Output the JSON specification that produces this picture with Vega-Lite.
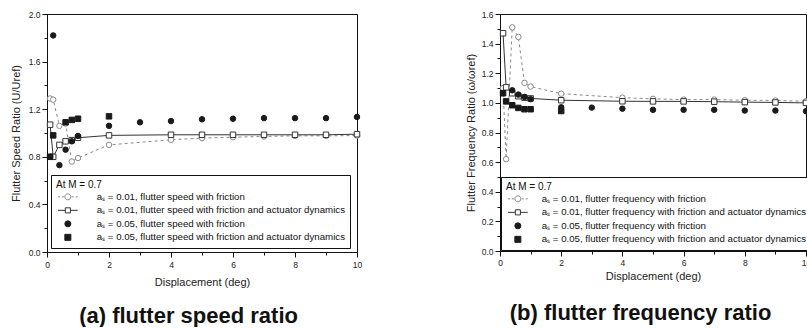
{
  "$schema": "https://vega.github.io/schema/vega-lite/v6.json",
  "padding": {"left": 9, "top": 9, "right": 0, "bottom": 0},
  "config": {
    "font": "Liberation Sans",
    "view": {"stroke": "#111", "strokeWidth": 1},
    "axis": {"domainColor": "#111", "tickColor": "#111", "labelColor": "#222", "labelFontSize": 8.5, "titleFontSize": 11, "titleFontWeight": "normal", "titleColor": "#222", "grid": false},
    "legend": {"strokeColor": "#111", "fillColor": "white", "padding": 5, "titleFontWeight": "normal", "titleFontSize": 10, "titleColor": "#111", "titlePadding": 2, "labelFontSize": 9.7, "labelColor": "#111", "labelLimit": 400, "rowPadding": 2.5, "symbolSize": 36, "symbolStrokeWidth": 1, "symbolOpacity": 1}
  },
  "columns": 2,
  "align": "none",
  "spacing": 96,
  "resolve": {
    "scale": {"shape": "independent", "fill": "independent", "stroke": "independent"},
    "legend": {"shape": "independent", "fill": "independent", "stroke": "independent"}
  },
  "datasets": {
    "speed": [
      {"x": 0.1, "y": 1.29, "series": "A"}, {"x": 0.2, "y": 1.28, "series": "A"}, {"x": 0.4, "y": 1.06, "series": "A"}, {"x": 0.6, "y": 1.08, "series": "A"}, {"x": 0.8, "y": 0.76, "series": "A"}, {"x": 1.0, "y": 0.79, "series": "A"}, {"x": 2, "y": 0.9, "series": "A"}, {"x": 4, "y": 0.943, "series": "A"}, {"x": 5, "y": 0.957, "series": "A"}, {"x": 6, "y": 0.965, "series": "A"}, {"x": 7, "y": 0.971, "series": "A"}, {"x": 8, "y": 0.976, "series": "A"}, {"x": 9, "y": 0.976, "series": "A"}, {"x": 10, "y": 0.979, "series": "A"},
      {"x": 0.1, "y": 1.07, "series": "B"}, {"x": 0.2, "y": 0.8, "series": "B"}, {"x": 0.4, "y": 0.9, "series": "B"}, {"x": 0.6, "y": 0.93, "series": "B"}, {"x": 0.8, "y": 0.94, "series": "B"}, {"x": 1.0, "y": 0.96, "series": "B"}, {"x": 2, "y": 0.98, "series": "B"}, {"x": 4, "y": 0.985, "series": "B"}, {"x": 5, "y": 0.985, "series": "B"}, {"x": 6, "y": 0.985, "series": "B"}, {"x": 7, "y": 0.985, "series": "B"}, {"x": 8, "y": 0.985, "series": "B"}, {"x": 9, "y": 0.985, "series": "B"}, {"x": 10, "y": 0.99, "series": "B"},
      {"x": 0.1, "y": 0.8, "series": "C"}, {"x": 0.2, "y": 1.82, "series": "C"}, {"x": 0.4, "y": 0.73, "series": "C"}, {"x": 0.6, "y": 0.86, "series": "C"}, {"x": 0.8, "y": 0.93, "series": "C"}, {"x": 1.0, "y": 0.975, "series": "C"}, {"x": 2, "y": 1.06, "series": "C"}, {"x": 3, "y": 1.09, "series": "C"}, {"x": 4, "y": 1.1, "series": "C"}, {"x": 5, "y": 1.115, "series": "C"}, {"x": 6, "y": 1.12, "series": "C"}, {"x": 7, "y": 1.125, "series": "C"}, {"x": 8, "y": 1.125, "series": "C"}, {"x": 9, "y": 1.125, "series": "C"}, {"x": 10, "y": 1.135, "series": "C"},
      {"x": 0.1, "y": 0.8, "series": "D"}, {"x": 0.2, "y": 0.98, "series": "D"}, {"x": 0.6, "y": 1.09, "series": "D"}, {"x": 0.8, "y": 1.11, "series": "D"}, {"x": 1.0, "y": 1.12, "series": "D"}, {"x": 2, "y": 1.14, "series": "D"}
    ],
    "freq": [
      {"x": 0.1, "y": 1.1, "series": "A"}, {"x": 0.2, "y": 0.62, "series": "A"}, {"x": 0.4, "y": 1.51, "series": "A"}, {"x": 0.6, "y": 1.445, "series": "A"}, {"x": 0.8, "y": 1.135, "series": "A"}, {"x": 1.0, "y": 1.11, "series": "A"}, {"x": 2, "y": 1.062, "series": "A"}, {"x": 4, "y": 1.035, "series": "A"}, {"x": 5, "y": 1.027, "series": "A"}, {"x": 6, "y": 1.022, "series": "A"}, {"x": 7, "y": 1.022, "series": "A"}, {"x": 8, "y": 1.018, "series": "A"}, {"x": 9, "y": 1.016, "series": "A"}, {"x": 10, "y": 1.011, "series": "A"},
      {"x": 0.1, "y": 1.47, "series": "B"}, {"x": 0.2, "y": 1.105, "series": "B"}, {"x": 0.4, "y": 1.065, "series": "B"}, {"x": 0.6, "y": 1.045, "series": "B"}, {"x": 0.8, "y": 1.035, "series": "B"}, {"x": 1.0, "y": 1.03, "series": "B"}, {"x": 2, "y": 1.018, "series": "B"}, {"x": 4, "y": 1.011, "series": "B"}, {"x": 5, "y": 1.01, "series": "B"}, {"x": 6, "y": 1.01, "series": "B"}, {"x": 7, "y": 1.008, "series": "B"}, {"x": 8, "y": 1.005, "series": "B"}, {"x": 9, "y": 1.003, "series": "B"}, {"x": 10, "y": 1.0, "series": "B"},
      {"x": 0.4, "y": 1.085, "series": "C"}, {"x": 0.6, "y": 1.056, "series": "C"}, {"x": 0.8, "y": 1.04, "series": "C"}, {"x": 1.0, "y": 1.025, "series": "C"}, {"x": 2, "y": 0.97, "series": "C"}, {"x": 3, "y": 0.968, "series": "C"}, {"x": 4, "y": 0.961, "series": "C"}, {"x": 5, "y": 0.953, "series": "C"}, {"x": 6, "y": 0.953, "series": "C"}, {"x": 7, "y": 0.953, "series": "C"}, {"x": 8, "y": 0.948, "series": "C"}, {"x": 9, "y": 0.948, "series": "C"}, {"x": 10, "y": 0.944, "series": "C"},
      {"x": 0.1, "y": 1.065, "series": "D"}, {"x": 0.2, "y": 1.01, "series": "D"}, {"x": 0.4, "y": 0.984, "series": "D"}, {"x": 0.6, "y": 0.966, "series": "D"}, {"x": 0.8, "y": 0.957, "series": "D"}, {"x": 1.0, "y": 0.957, "series": "D"}, {"x": 2, "y": 0.945, "series": "D"}
    ]
  },
  "concat": [
    {
      "width": 310,
      "height": 238,
      "title": {"text": "(a) flutter speed ratio", "orient": "bottom", "frame": "bounds", "anchor": "middle", "fontSize": 22, "fontWeight": "bold", "font": "Liberation Sans", "offset": 18, "color": "#111"},
      "data": {"name": "speed"},
      "encoding": {
        "x": {"field": "x", "type": "quantitative", "scale": {"domain": [0, 10], "nice": false, "zero": false},
          "axis": {"title": "Displacement (deg)", "values": [0, 1, 2, 3, 4, 5, 6, 7, 8, 9, 10], "labelExpr": "datum.value % 2 == 0 ? datum.label : ''", "labelFlush": false, "tickSize": {"condition": {"test": "datum.value % 2 == 0", "value": 5}, "value": 3}, "labelPadding": 3, "titlePadding": 8}},
        "y": {"field": "y", "type": "quantitative", "scale": {"domain": [0, 2], "nice": false},
          "axis": {"title": "Flutter Speed Ratio (U/Uref)", "values": [0, 0.2, 0.4, 0.6, 0.8, 1.0, 1.2, 1.4, 1.6, 1.8, 2.0], "labelExpr": "round(datum.value*10) % 4 == 0 ? format(datum.value, '.1f') : ''", "tickSize": {"condition": {"test": "round(datum.value*10) % 4 == 0", "value": 5}, "value": 3}, "labelPadding": 2, "titlePadding": 7}}
      },
      "resolve": {"scale": {"shape": "independent", "fill": "independent", "stroke": "independent"}},
      "layer": [
        {"transform": [{"filter": "datum.series == 'A'"}], "mark": {"type": "line", "stroke": "#8a8a8a", "strokeDash": [3, 3], "strokeWidth": 1}},
        {"transform": [{"filter": "datum.series == 'B'"}], "mark": {"type": "line", "stroke": "#333", "strokeWidth": 1}},
        {
          "mark": {"type": "point", "size": 30, "strokeWidth": 1, "opacity": 1},
          "encoding": {
            "shape": {"field": "series", "type": "nominal", "scale": {"domain": ["A", "B", "C", "D"], "range": ["circle", "square", "circle", "square"]}, "legend": null},
            "fill": {"field": "series", "type": "nominal", "scale": {"domain": ["A", "B", "C", "D"], "range": ["white", "white", "#1a1a1a", "#1a1a1a"]}, "legend": null},
            "stroke": {"field": "series", "type": "nominal", "scale": {"domain": ["A", "B", "C", "D"], "range": ["#8a8a8a", "#333", "#1a1a1a", "#1a1a1a"]}, "legend": null}
          }
        },
        {
          "mark": {"type": "point", "size": 36, "strokeWidth": 1, "opacity": 0},
          "encoding": {
            "shape": {"field": "series", "type": "nominal", "scale": {"domain": ["A", "B", "C", "D"], "range": ["M-3.3,0H-2.6M-2.0,0H-1.3M-1,0A1,1 0 1,0 1,0A1,1 0 1,0 -1,0ZM1.3,0H2.0M2.6,0H3.3", "M-3.3,0H-0.85M-0.85,-0.85H0.85V0.85H-0.85ZM0.85,0H3.3", "circle", "square"]},
              "legend": {"title": "At M = 0.7", "orient": "bottom-left", "offset": 4, "symbolOffset": 7, "labelOffset": 24,
                "labelExpr": "datum.value == 'A' ? 'aₛ = 0.01, flutter speed with friction' : datum.value == 'B' ? 'aₛ = 0.01, flutter speed with friction and actuator dynamics' : datum.value == 'C' ? 'aₛ = 0.05, flutter speed with friction' : 'aₛ = 0.05, flutter speed with friction and actuator dynamics'"}},
            "fill": {"field": "series", "type": "nominal", "scale": {"domain": ["A", "B", "C", "D"], "range": ["white", "white", "#1a1a1a", "#1a1a1a"]}},
            "stroke": {"field": "series", "type": "nominal", "scale": {"domain": ["A", "B", "C", "D"], "range": ["#8a8a8a", "#333", "#1a1a1a", "#1a1a1a"]}}
          }
        }
      ]
    },
    {
      "width": 306,
      "height": 237,
      "title": {"text": "(b) flutter frequency ratio", "orient": "bottom", "frame": "bounds", "anchor": "middle", "fontSize": 22, "fontWeight": "bold", "font": "Liberation Sans", "offset": 21, "color": "#111"},
      "data": {"name": "freq"},
      "encoding": {
        "x": {"field": "x", "type": "quantitative", "scale": {"domain": [0, 10], "nice": false, "zero": false},
          "axis": {"title": "Displacement (deg)", "values": [0, 1, 2, 3, 4, 5, 6, 7, 8, 9, 10], "labelExpr": "datum.value % 2 == 0 ? datum.label : ''", "labelFlush": false, "tickSize": {"condition": {"test": "datum.value % 2 == 0", "value": 5}, "value": 3}, "labelPadding": 2, "titlePadding": 4}},
        "y": {"field": "y", "type": "quantitative", "scale": {"domain": [0, 1.6], "nice": false},
          "axis": {"title": "Flutter Frequency Ratio (ω/ωref)", "values": [0, 0.1, 0.2, 0.3, 0.4, 0.5, 0.6, 0.7, 0.8, 0.9, 1.0, 1.1, 1.2, 1.3, 1.4, 1.5, 1.6], "labelExpr": "round(datum.value*10) % 2 == 0 ? format(datum.value, '.1f') : ''", "tickSize": {"condition": {"test": "round(datum.value*10) % 2 == 0", "value": 5}, "value": 3}, "labelPadding": 2, "titlePadding": 5}}
      },
      "resolve": {"scale": {"shape": "independent", "fill": "independent", "stroke": "independent"}},
      "layer": [
        {"transform": [{"filter": "datum.series == 'A'"}], "mark": {"type": "line", "stroke": "#8a8a8a", "strokeDash": [3, 3], "strokeWidth": 1}},
        {"transform": [{"filter": "datum.series == 'B'"}], "mark": {"type": "line", "stroke": "#333", "strokeWidth": 1}},
        {
          "mark": {"type": "point", "size": 30, "strokeWidth": 1, "opacity": 1},
          "encoding": {
            "shape": {"field": "series", "type": "nominal", "scale": {"domain": ["A", "B", "C", "D"], "range": ["circle", "square", "circle", "square"]}, "legend": null},
            "fill": {"field": "series", "type": "nominal", "scale": {"domain": ["A", "B", "C", "D"], "range": ["white", "white", "#1a1a1a", "#1a1a1a"]}, "legend": null},
            "stroke": {"field": "series", "type": "nominal", "scale": {"domain": ["A", "B", "C", "D"], "range": ["#8a8a8a", "#333", "#1a1a1a", "#1a1a1a"]}, "legend": null}
          }
        },
        {
          "mark": {"type": "point", "size": 36, "strokeWidth": 1, "opacity": 0},
          "encoding": {
            "shape": {"field": "series", "type": "nominal", "scale": {"domain": ["A", "B", "C", "D"], "range": ["M-3.3,0H-2.6M-2.0,0H-1.3M-1,0A1,1 0 1,0 1,0A1,1 0 1,0 -1,0ZM1.3,0H2.0M2.6,0H3.3", "M-3.3,0H-0.85M-0.85,-0.85H0.85V0.85H-0.85ZM0.85,0H3.3", "circle", "square"]},
              "legend": {"title": "At M = 0.7", "orient": "bottom-left", "offset": 1, "symbolOffset": 7, "labelOffset": 19,
                "labelExpr": "datum.value == 'A' ? 'aₛ = 0.01, flutter frequency with friction' : datum.value == 'B' ? 'aₛ = 0.01, flutter frequency with friction and actuator dynamics' : datum.value == 'C' ? 'aₛ = 0.05, flutter frequency with friction' : 'aₛ = 0.05, flutter frequency with friction and actuator dynamics'"}},
            "fill": {"field": "series", "type": "nominal", "scale": {"domain": ["A", "B", "C", "D"], "range": ["white", "white", "#1a1a1a", "#1a1a1a"]}},
            "stroke": {"field": "series", "type": "nominal", "scale": {"domain": ["A", "B", "C", "D"], "range": ["#8a8a8a", "#333", "#1a1a1a", "#1a1a1a"]}}
          }
        }
      ]
    }
  ]
}
